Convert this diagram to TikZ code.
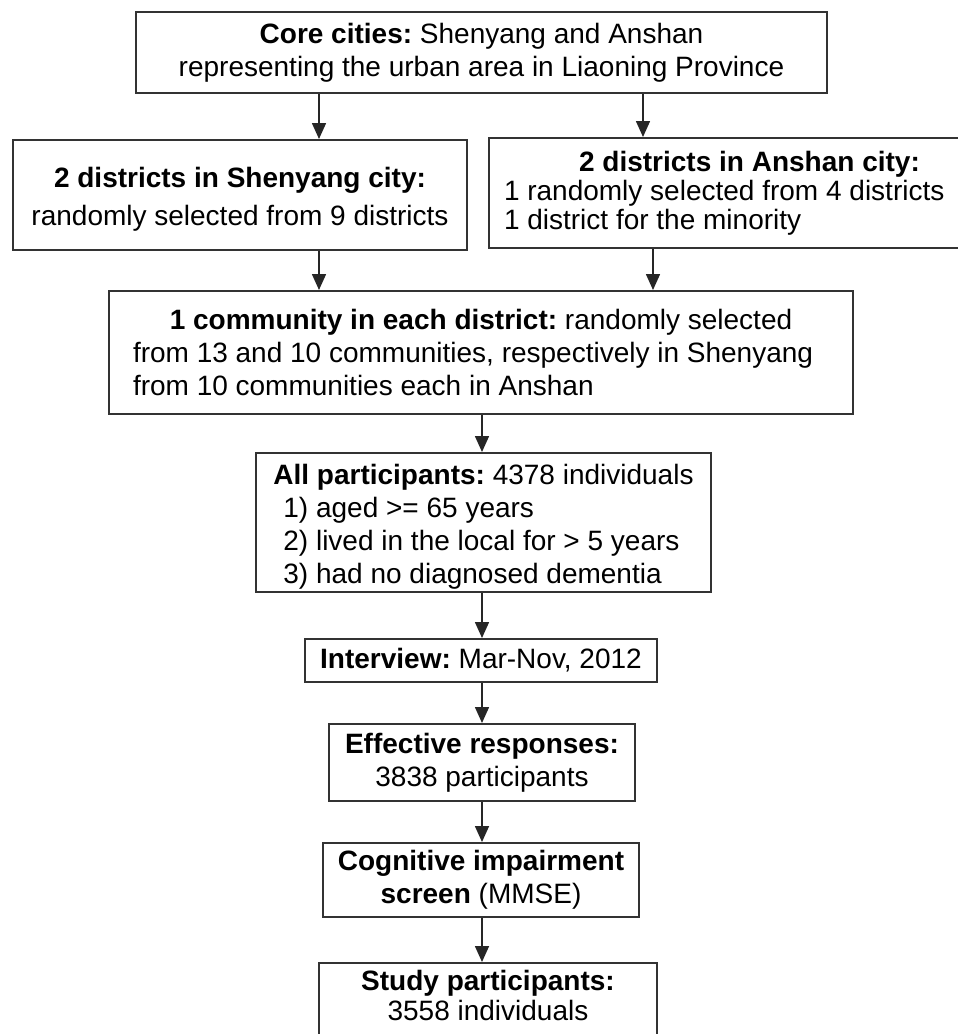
\documentclass[tikz,border=0pt]{standalone}
\usepackage{fontspec}
\setmainfont{Liberation Sans}
\usetikzlibrary{arrows.meta}
\frenchspacing
\begin{document}
\begin{tikzpicture}[x=1pt,y=-1pt,
  box/.style={draw=black!80,line width=2pt,inner sep=0pt,align=center,font=\fontsize{28}{33}\selectfont},
  arr/.style={-{Triangle[width=14pt,length=16pt]},line width=1.6pt,draw=black!85}]
\useasboundingbox (0,0) rectangle (958,1034);
\fill[white] (0,0) rectangle (958,1034);

\node[box,minimum width=691pt,minimum height=81pt] (core) at (481.5,52.5) {\textbf{Core cities:} Shenyang and Anshan\\representing the urban area in Liaoning Province};

\node[box,minimum width=454pt,minimum height=110pt] (shen) at (240,195) {\rule{0pt}{28pt}\textbf{2 districts in Shenyang city:}\\[5pt]randomly selected from 9 districts};
\node[box,minimum width=521pt,minimum height=110pt,align=left,font=\fontsize{28}{29}\selectfont] (anshan) at (749.5,193) {\makebox[491pt]{\textbf{2 districts in Anshan city:}}\\1 randomly selected from 4 districts\\1 district for the minority};

\node[box,minimum width=744pt,minimum height=123pt,align=left] (comm) at (481,352.5) {\makebox[696pt]{\textbf{1 community in each district:} randomly selected}\\from 13 and 10 communities, respectively in Shenyang\\from 10 communities each in Anshan};

\node[box,minimum width=455pt,minimum height=139pt,align=left] (allp) at (483.5,522.5) {\rule{0pt}{28pt}\textbf{All participants:} 4378 individuals\\\hspace*{10pt}1) aged >= 65 years\\\hspace*{10pt}2) lived in the local for > 5 years\\\hspace*{10pt}3) had no diagnosed dementia};

\node[box,minimum width=352pt,minimum height=43pt] (intv) at (481,660.5) {\textbf{Interview:} Mar-Nov, 2012};
\node[box,minimum width=306pt,minimum height=77pt] (eff) at (482,762.5) {\textbf{Effective responses:}\\3838 participants};
\node[box,minimum width=316pt,minimum height=74pt] (cog) at (481,880) {\textbf{Cognitive impairment}\\\textbf{screen} (MMSE)};
\node[box,minimum width=338pt,anchor=north,inner ysep=7pt,text depth=60pt,font=\fontsize{28}{30}\selectfont] (study) at (488,962) {\textbf{Study participants:}\\3558 individuals};

\coordinate (lx) at (319,0);
\coordinate (rx) at (643,0);
\coordinate (rx2) at (653,0);
\coordinate (mx) at (482,0);

\draw[arr] (core.south -| lx) -- (shen.north -| lx);
\draw[arr] (core.south -| rx) -- (anshan.north -| rx);
\draw[arr] (shen.south -| lx) -- (comm.north -| lx);
\draw[arr] (anshan.south -| rx2) -- (comm.north -| rx2);
\draw[arr] (comm.south -| mx) -- (allp.north -| mx);
\draw[arr] (allp.south -| mx) -- (intv.north -| mx);
\draw[arr] (intv.south -| mx) -- (eff.north -| mx);
\draw[arr] (eff.south -| mx) -- (cog.north -| mx);
\draw[arr] (cog.south -| mx) -- (study.north -| mx);
\end{tikzpicture}
\end{document}
